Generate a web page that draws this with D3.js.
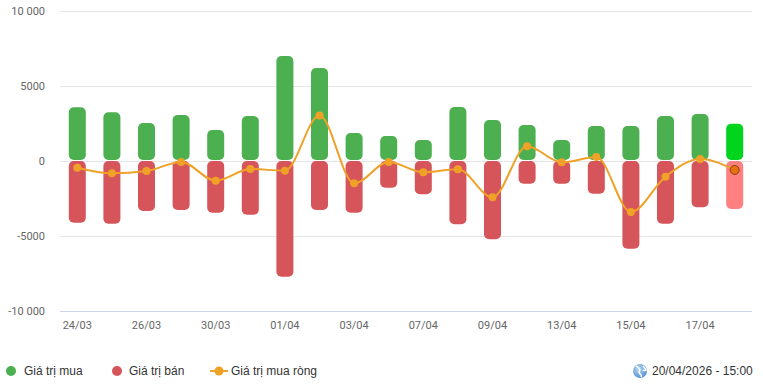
<!DOCTYPE html>
<html><head><meta charset="utf-8">
<script src="https://cdn.jsdelivr.net/npm/d3@7"></script>
<style>
html,body{margin:0;padding:0;background:#fff;}
svg{display:block;}
</style></head>
<body><svg id="c" width="763" height="384"></svg>
<script>
const dates = ["24/03","25/03","26/03","27/03","30/03","31/03","01/04","02/04","03/04","06/04","07/04","08/04","09/04","10/04","13/04","14/04","15/04","16/04","17/04","20/04"];
const buyValues = [3550,3210,2500,3030,2030,2970,6970,6170,1830,1630,1370,3570,2700,2370,1370,2300,2300,2970,3100,2450];
const sellValues = [-4150,-4210,-3370,-3300,-3480,-3610,-7750,-3300,-3480,-1810,-2250,-4250,-5250,-1550,-1550,-2210,-5880,-4210,-3120,-3230];
const netValues = [-480,-850,-700,-100,-1350,-570,-680,3000,-1520,-100,-790,-590,-2450,950,-120,230,-3430,-1080,100,-630];
const yTicks = [-10000,-5000,0,5000,10000];
const xLabelEvery = 2;
const legendItems = ["Giá trị mua","Giá trị bán","Giá trị mua ròng"];
const timestamp = "20/04/2026 - 15:00";

(function(){
const svg = d3.select("#c");
const pLeft = 60, pRight = 752, pTop = 10.5, pBottom = 310.5;
const x = d3.scaleBand().domain(dates).range([pLeft, pRight]).paddingInner(0).paddingOuter(0);
const y = d3.scaleLinear().domain([-10000, 10000]).range([pBottom, pTop]);
const fmt = v => { const a = Math.abs(v); let s = a >= 10000 ? d3.format(",")(a).replace(/,/g, " ") : String(a); return (v < 0 ? "-" : "") + s; };

svg.append("g").selectAll("line").data(yTicks).join("line")
  .attr("x1", pLeft).attr("x2", pRight)
  .attr("y1", d => Math.round(y(d)) + 0.5).attr("y2", d => Math.round(y(d)) + 0.5)
  .attr("stroke", d => d === -10000 ? "#ccd6eb" : "#e6e6e6").attr("stroke-width", 1);

svg.append("g").selectAll("text").data(yTicks).join("text")
  .attr("x", 45).attr("y", d => y(d) + 4)
  .attr("text-anchor", "end").attr("font-family", "Roboto, sans-serif").attr("font-size", 11)
  .attr("fill", "#666").text(fmt);

svg.append("g").selectAll("text").data(dates.filter((d, i) => i % xLabelEvery === 0)).join("text")
  .attr("x", d => x(d) + x.bandwidth() / 2).attr("y", 329)
  .attr("text-anchor", "middle").attr("font-family", "Roboto, sans-serif").attr("font-size", 11)
  .attr("fill", "#666").text(d => d);

const bw = 17;
const last = dates.length - 1;
svg.append("g").selectAll("rect").data(buyValues).join("rect")
  .attr("x", (d, i) => x(dates[i]) + x.bandwidth() / 2 - bw / 2)
  .attr("y", d => y(d)).attr("width", bw)
  .attr("height", d => y(0) - 0.5 - y(d))
  .attr("rx", 5).attr("ry", 5)
  .attr("fill", (d, i) => i === last ? "#00d41c" : "#4caf50");
svg.append("g").selectAll("rect").data(sellValues).join("rect")
  .attr("x", (d, i) => x(dates[i]) + x.bandwidth() / 2 - bw / 2)
  .attr("y", y(0) + 0.5).attr("width", bw)
  .attr("height", d => y(d) - y(0) - 0.5)
  .attr("rx", 5).attr("ry", 5)
  .attr("fill", (d, i) => i === last ? "#ff8080" : "#d6555a");

const cx = i => x(dates[i]) + x.bandwidth() / 2;
const line = d3.line().x((d, i) => cx(i)).y(d => y(d)).curve(d3.curveMonotoneX);
svg.append("path").datum(netValues).attr("d", line)
  .attr("fill", "none").attr("stroke", "#f0a127").attr("stroke-width", 2);
svg.append("g").selectAll("circle").data(netValues).join("circle")
  .attr("cx", (d, i) => cx(i)).attr("cy", d => y(d))
  .attr("r", (d, i) => i === last ? 4.5 : 4)
  .attr("fill", (d, i) => i === last ? "#e8700e" : "#f0a127")
  .attr("stroke", (d, i) => i === last ? "#8a3b12" : "none").attr("stroke-width", 1);

const lg = svg.append("g").attr("font-family", "'Liberation Sans', Arial, sans-serif").attr("font-size", 12).attr("fill", "#333");
lg.append("circle").attr("cx", 11).attr("cy", 371).attr("r", 5).attr("fill", "#4caf50");
lg.append("text").attr("x", 24).attr("y", 375).text(legendItems[0]);
lg.append("circle").attr("cx", 117).attr("cy", 371).attr("r", 5).attr("fill", "#d6555a");
lg.append("text").attr("x", 129).attr("y", 375).text(legendItems[1]);
lg.append("line").attr("x1", 210).attr("x2", 228).attr("y1", 371).attr("y2", 371).attr("stroke", "#f0a127").attr("stroke-width", 2);
lg.append("circle").attr("cx", 219).attr("cy", 371).attr("r", 4.5).attr("fill", "#f0a127");
lg.append("text").attr("x", 231).attr("y", 375).text(legendItems[2]);

const defs = svg.append("defs");
const gr = defs.append("radialGradient").attr("id", "gl").attr("cx", "40%").attr("cy", "35%").attr("r", "70%");
gr.append("stop").attr("offset", "0%").attr("stop-color", "#b9d7f2");
gr.append("stop").attr("offset", "100%").attr("stop-color", "#4f8fcf");
svg.append("circle").attr("cx", 640).attr("cy", 371).attr("r", 7).attr("fill", "url(#gl)");
svg.append("path").attr("d", "M636,366 q3,1 4,4 q-2,2 0,4 q2,1 1,3 M643,366 q2,2 3,4 q-2,1 -3,0").attr("fill", "none").attr("stroke", "#fff").attr("stroke-width", 1.4);
svg.append("text").attr("x", 652).attr("y", 375).attr("font-family", "'Liberation Sans', Arial, sans-serif")
  .attr("font-size", 12).attr("fill", "#333").text(timestamp);
})();
</script></body></html>
